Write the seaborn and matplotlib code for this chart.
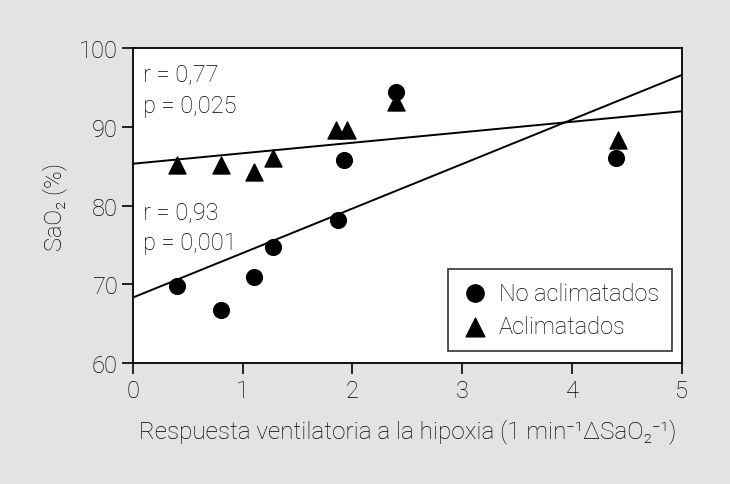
import matplotlib
matplotlib.use("Agg")
import matplotlib.pyplot as plt
import seaborn as sns
import pandas as pd

# Data
x_no = [0.40, 0.80, 1.10, 1.28, 1.87, 1.92, 2.40, 4.40]
y_no = [69.8, 66.8, 70.9, 74.7, 78.2, 85.8, 94.4, 86.1]
x_ac = [0.40, 0.80, 1.10, 1.28, 1.85, 1.95, 2.40, 4.42]
y_ac = [85.1, 85.2, 84.3, 86.1, 89.6, 89.6, 93.2, 88.3]
labels = ["No aclimatados", "Aclimatados"]
x_ticks = [0, 1, 2, 3, 4, 5]
y_ticks = [60, 70, 80, 90, 100]

sns.set_style("white")
fam = "Roboto"
plt.rcParams["font.family"] = [fam, "DejaVu Sans"]
plt.rcParams["font.weight"] = "light"
plt.rcParams["axes.labelweight"] = "light"

txt = "#000000"
bg = "#e3e3e3"
fs = 17

fig = plt.figure(figsize=(7.3, 4.85), dpi=100, facecolor=bg)
ax = fig.add_axes([0.182, 0.249, 0.752, 0.650])
ax.set_facecolor("white")
ax.set_xlim(0, 5)
ax.set_ylim(60, 100)

df_no = pd.DataFrame({"x": x_no, "y": y_no})
df_ac = pd.DataFrame({"x": x_ac, "y": y_ac})

sns.regplot(data=df_no, x="x", y="y", ax=ax, ci=None, truncate=False,
            scatter=False, line_kws=dict(color="black", lw=1.4))
sns.regplot(data=df_ac, x="x", y="y", ax=ax, ci=None, truncate=False,
            scatter=False, line_kws=dict(color="black", lw=1.4))
sns.scatterplot(data=df_no, x="x", y="y", ax=ax, marker="o", s=130,
                color="black", edgecolor="black", label=labels[0], zorder=3)
sns.scatterplot(data=df_ac, x="x", y="y", ax=ax, marker="^", s=150,
                color="black", edgecolor="black", label=labels[1], zorder=3)

ax.set_xlim(0, 5)
ax.set_ylim(60, 100)
ax.set_xticks(x_ticks)
ax.set_yticks(y_ticks)
ax.tick_params(axis="both", direction="out", length=8, width=1.2,
               colors="black", labelcolor=txt, labelsize=fs, pad=3,
               left=True, bottom=True)
for sp in ax.spines.values():
    sp.set_color("black")
    sp.set_linewidth(1.3)

ax.set_xlabel("Respuesta ventilatoria a la hipoxia (1 min\u207b\u00b9\u0394SaO\u2082\u207b\u00b9)",
              fontsize=17.5, color=txt, labelpad=12, fontweight="light")
ax.set_ylabel("SaO\u2082 (%)", fontsize=fs, color=txt, labelpad=8, fontweight="light")

ax.text(0.09, 96.7, "r = 0,77", fontsize=fs, color=txt, va="center")
ax.text(0.09, 92.7, "p = 0,025", fontsize=fs, color=txt, va="center")
ax.text(0.09, 79.3, "r = 0,93", fontsize=fs, color=txt, va="center")
ax.text(0.09, 75.3, "p = 0,001", fontsize=fs, color=txt, va="center")

leg = ax.legend(loc="lower right", bbox_to_anchor=(0.982, 0.038), frameon=True,
                fancybox=False, fontsize=fs, handletextpad=0.4, borderaxespad=0,
                borderpad=0.55, labelspacing=0.45, handlelength=1.2, markerscale=1.1)
leg.get_frame().set_edgecolor("black")
leg.get_frame().set_linewidth(1.2)
for t in leg.get_texts():
    t.set_color(txt)

fig.savefig("out.png", dpi=100, facecolor=bg)
